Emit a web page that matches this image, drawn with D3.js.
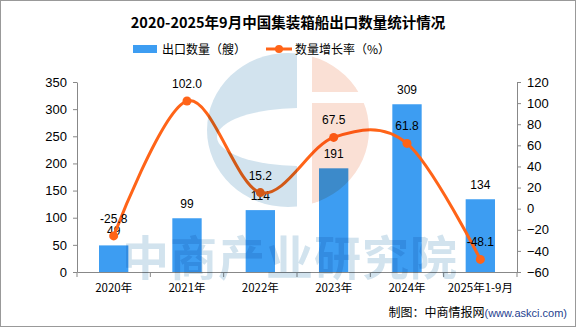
<!DOCTYPE html>
<html>
<head>
<meta charset="utf-8">
<script src="https://cdn.jsdelivr.net/npm/d3@7"></script>
<style>
body { margin: 0; background: #fff; }
svg { display: block; font-family: "Liberation Sans", Arial, sans-serif; }
</style>
</head>
<body>
<div class="chart"></div>
<script>
var years = ["2020年", "2021年", "2022年", "2023年", "2024年", "2025年1-9月"];
var exports = [49, 99, 114, 191, 309, 134];
var growth = [-25.8, 102.0, 15.2, 67.5, 61.8, -48.1];
var leftTicks = [0, 50, 100, 150, 200, 250, 300, 350];
var rightTicks = [-60, -40, -20, 0, 20, 40, 60, 80, 100, 120];

var W = 576, H = 327;
var blue = "#3d9df2", orange = "#ff6418";
var cjk = "'Noto Sans CJK SC', 'Noto Sans', sans-serif";

var svg = d3.select(".chart").append("svg").attr("width", W).attr("height", H);
svg.append("rect").attr("x", 0.5).attr("y", 0.5).attr("width", W - 1).attr("height", H - 1)
	.attr("fill", "#fff").attr("stroke", "#999");

var x = d3.scaleBand().domain(years).range([77, 517]).paddingInner(0.6).paddingOuter(0.3);
var yL = d3.scaleLinear().domain([0, 350]).range([272, 82]);
var yR = d3.scaleLinear().domain([-60, 120]).range([272, 82]);

// title
svg.append("text").attr("x", W / 2).attr("y", 28).attr("text-anchor", "middle")
	.style("font-family", cjk).style("font-weight", "bold").style("font-size", "14.5px")
	.text("2020-2025年9月中国集装箱船出口数量统计情况");

// legend
svg.append("rect").attr("x", 133).attr("y", 45).attr("width", 24).attr("height", 8).attr("fill", blue);
svg.append("text").attr("x", 162).attr("y", 53.5).style("font-family", cjk).style("font-size", "12px").text("出口数量（艘）");
svg.append("line").attr("x1", 266).attr("x2", 292).attr("y1", 49).attr("y2", 49).attr("stroke", orange).attr("stroke-width", 3);
svg.append("circle").attr("cx", 279).attr("cy", 49).attr("r", 4).attr("fill", orange);
svg.append("text").attr("x", 295).attr("y", 53.5).style("font-family", cjk).style("font-size", "12px").text("数量增长率（%）");

// axes
function styleAxis(g) {
	g.selectAll("path, line").attr("stroke", "#888");
	g.selectAll("text").attr("fill", "#000").style("font-size", "13px");
}
svg.append("g").attr("transform", "translate(77,0)")
	.call(d3.axisLeft(yL).tickValues(leftTicks).tickSize(4).tickSizeOuter(0).tickPadding(6))
	.call(styleAxis);
svg.append("g").attr("transform", "translate(517,0)")
	.call(d3.axisRight(yR).tickValues(rightTicks).tickSize(4).tickSizeOuter(0).tickPadding(6))
	.call(styleAxis);
var xa = svg.append("g").attr("transform", "translate(0,272)")
	.call(d3.axisBottom(x).tickSize(0).tickSizeOuter(0).tickPadding(12))
	.call(styleAxis);
xa.selectAll("text").style("font-family", cjk).style("font-size", "11.5px");
// ticks between categories
var bounds = d3.range(years.length + 1).map(function(i) { return x.range()[0] + i * x.step(); });
svg.append("g").selectAll("line").data(bounds).enter().append("line")
	.attr("x1", function(d) { return d; }).attr("x2", function(d) { return d; })
	.attr("y1", 272).attr("y2", 277).attr("stroke", "#888");

// bars
svg.selectAll(".bar").data(exports).enter().append("rect").attr("class", "bar")
	.attr("x", function(d, i) { return x(years[i]); })
	.attr("width", x.bandwidth())
	.attr("y", function(d) { return yL(d); })
	.attr("height", function(d) { return yL(0) - yL(d); })
	.attr("fill", blue);
svg.selectAll(".blab").data(exports).enter().append("text").attr("class", "blab")
	.attr("x", function(d, i) { return x(years[i]) + x.bandwidth() / 2; })
	.attr("y", function(d) { return yL(d) - 10; })
	.attr("text-anchor", "middle").style("font-size", "12px").text(function(d) { return d; });

// growth line
var cx = function(d, i) { return x(years[i]) + x.bandwidth() / 2; };
var line = d3.line().x(cx).y(function(d) { return yR(d); }).curve(d3.curveCardinal.tension(0));
svg.append("path").datum(growth).attr("d", line).attr("fill", "none")
	.attr("stroke", orange).attr("stroke-width", 3);
svg.selectAll(".dot").data(growth).enter().append("circle").attr("class", "dot")
	.attr("cx", cx).attr("cy", function(d) { return yR(d); }).attr("r", 4.5).attr("fill", orange);
svg.selectAll(".glab").data(growth).enter().append("text").attr("class", "glab")
	.attr("x", cx).attr("y", function(d) { return yR(d) - 13; })
	.attr("text-anchor", "middle").style("font-size", "12px").text(function(d) { return d.toFixed(1); });

// watermark logo and text
var wm = svg.append("g").style("mix-blend-mode", "multiply");
var clip = svg.append("defs").append("clipPath").attr("id", "leftc");
clip.append("rect").attr("x", 200).attr("y", 40).attr("width", 97).attr("height", 180);
var clipR = svg.select("defs").append("clipPath").attr("id", "rightc");
clipR.append("rect").attr("x", 312).attr("y", 40).attr("width", 80).attr("height", 52);
clipR.append("rect").attr("x", 312).attr("y", 103).attr("width", 80).attr("height", 120);
var mask = svg.select("defs").append("mask").attr("id", "hole");
mask.append("rect").attr("x", 0).attr("y", 0).attr("width", W).attr("height", H).attr("fill", "#fff");
mask.append("ellipse").attr("cx", 300).attr("cy", 137).attr("rx", 83).attr("ry", 29).attr("fill", "#000");
wm.append("ellipse").attr("cx", 288).attr("cy", 130).attr("rx", 81).attr("ry", 77)
	.attr("fill", "#d2e3ee").attr("clip-path", "url(#leftc)").attr("mask", "url(#hole)");
wm.append("ellipse").attr("cx", 288).attr("cy", 130).attr("rx", 81).attr("ry", 77)
	.attr("fill", "#fae0d5").attr("clip-path", "url(#rightc)");
wm.append("text").attr("x", 290).attr("y", 275).attr("text-anchor", "middle")
	.style("font-family", cjk).style("font-weight", "bold").style("font-size", "47px")
	.attr("fill", "#d2e3ee").attr("letter-spacing", "1px").text("中商产业研究院");

// source
var src = svg.append("text").attr("x", 567).attr("y", 317).attr("text-anchor", "end").style("font-size", "12px");
src.append("tspan").style("font-family", cjk).attr("fill", "#000").text("制图：中商情报网");
src.append("tspan").attr("fill", "#1f3f8f").style("font-size", "11px").text("(www.askci.com)");
</script>
</body>
</html>
